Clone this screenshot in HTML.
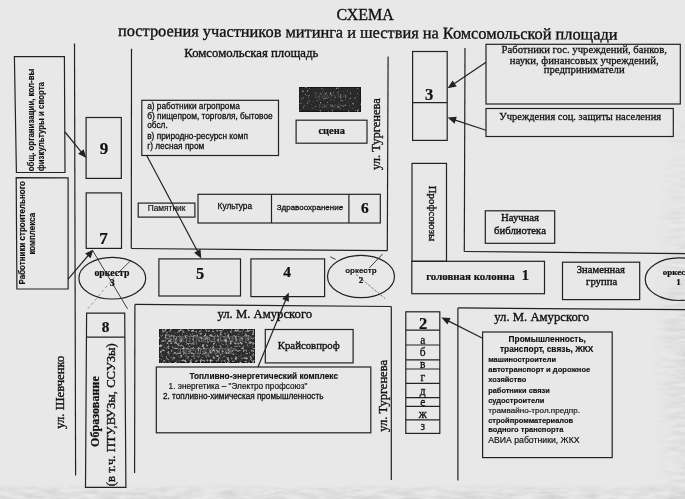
<!DOCTYPE html>
<html><head><meta charset="utf-8">
<style>
html,body{margin:0;padding:0;width:685px;height:499px;overflow:hidden;background:#e8e8e8;}
svg{position:absolute;left:0;top:0;filter:blur(0.3px);}
.s{font-family:"Liberation Serif",serif;fill:#111;stroke:#111;stroke-width:0.35;}
.a{font-family:"Liberation Sans",sans-serif;fill:#111;stroke:#111;stroke-width:0.18;}
.b{font-weight:bold;stroke-width:0.15;}
.s.b{stroke-width:0.22;}
.m{stroke-width:0.28;}
</style></head><body>
<svg width="685" height="499" viewBox="0 0 685 499">
<defs>
<filter id="noise" x="0" y="0" width="100%" height="100%">
<feTurbulence type="fractalNoise" baseFrequency="0.4" numOctaves="2" seed="7" result="n"/>
<feColorMatrix in="n" type="matrix" values="0 0 0 0 0.5  0 0 0 0 0.5  0 0 0 0 0.5  0 0 0 3.0 -1.6" result="m"/>
<feComposite in="m" in2="SourceAlpha" operator="in" result="c"/>
<feMerge result="mg"><feMergeNode in="SourceGraphic"/><feMergeNode in="c"/></feMerge>
<feGaussianBlur in="mg" stdDeviation="0.45"/>
</filter>
<filter id="noise2" x="0" y="0" width="100%" height="100%">
<feTurbulence type="fractalNoise" baseFrequency="0.4" numOctaves="2" seed="5" result="n"/>
<feColorMatrix in="n" type="matrix" values="0 0 0 0 0.5  0 0 0 0 0.5  0 0 0 0 0.5  0 0 0 3.0 -1.95" result="m"/>
<feComposite in="m" in2="SourceAlpha" operator="in" result="c"/>
<feMerge result="mg"><feMergeNode in="SourceGraphic"/><feMergeNode in="c"/></feMerge>
<feGaussianBlur in="mg" stdDeviation="0.45"/>
</filter>
<filter id="bgn2" x="0" y="0" width="100%" height="100%">
<feTurbulence type="fractalNoise" baseFrequency="0.05 0.25" numOctaves="3" seed="4" result="n"/>
<feColorMatrix in="n" type="matrix" values="0 0 0 0 0  0 0 0 0 0  0 0 0 0 0  0 0 0 1.6 -0.5" result="m"/>
<feComposite in="SourceGraphic" in2="m" operator="in"/>
</filter>
<filter id="bgn" x="0" y="0" width="100%" height="100%">
<feTurbulence type="fractalNoise" baseFrequency="0.08 0.3" numOctaves="3" seed="11" result="n"/>
<feColorMatrix in="n" type="matrix" values="0 0 0 0 0  0 0 0 0 0  0 0 0 0 0  0 0 0 0.6 -0.22" result="m"/>
<feComposite in="m" in2="SourceAlpha" operator="in"/>
</filter>
<linearGradient id="gb" x1="0" y1="0" x2="0" y2="1"><stop offset="0" stop-color="#000" stop-opacity="0"/><stop offset="0.3" stop-color="#000" stop-opacity="0.08"/><stop offset="1" stop-color="#000" stop-opacity="0.12"/></linearGradient>
<radialGradient id="gr" cx="1" cy="0.6" r="0.75"><stop offset="0" stop-color="#000" stop-opacity="0.13"/><stop offset="0.5" stop-color="#000" stop-opacity="0.06"/><stop offset="1" stop-color="#000" stop-opacity="0"/></radialGradient>
</defs>
<g fill="none" stroke="#222222" stroke-width="1.2">
<line x1="74.5" y1="43.5" x2="75.6" y2="475.5"/>
<line x1="131.5" y1="48.7" x2="131.3" y2="248.6"/>
<line x1="131.3" y1="248.5" x2="387.3" y2="250.7"/>
<line x1="388.1" y1="56.6" x2="387.3" y2="250.7"/>
<line x1="465.0" y1="48.0" x2="464.3" y2="251.6"/>
<line x1="464.3" y1="251.5" x2="685.0" y2="253.6"/>
<line x1="134.9" y1="304.4" x2="391.3" y2="306.5"/>
<line x1="134.9" y1="304.4" x2="134.6" y2="473.0"/>
<line x1="391.3" y1="306.5" x2="391.3" y2="480.1"/>
<line x1="457.9" y1="307.9" x2="457.9" y2="480.5"/>
<line x1="457.9" y1="307.9" x2="685.0" y2="309.6"/>
<path d="M14.4,56.5 L64.4,56.7 L65.0,172.5 L16.4,172.3 Z"/>
<path d="M16.2,177.6 L68.1,177.8 L68.1,289.0 L16.9,289.0 Z"/>
<rect x="86.1" y="117.5" width="35.2" height="60.9"/>
<rect x="86.2" y="192.9" width="35.3" height="55.5"/>
<ellipse cx="112.3" cy="278.2" rx="33.4" ry="20.8"/>
<path d="M86.6,313.2 L124.7,313.2 L125.9,487.3 L85.5,487.3 Z"/>
<line x1="86.6" y1="337.2" x2="124.9" y2="337.2"/>
<rect x="141.8" y="100.3" width="136.7" height="55.2"/>
<rect x="296.1" y="120.2" width="70.9" height="23.0"/>
<rect x="138.2" y="203.1" width="56.7" height="14.0"/>
<rect x="198.0" y="194.3" width="182.3" height="28.7"/>
<line x1="271.5" y1="194.3" x2="271.5" y2="223.0"/>
<line x1="348.9" y1="194.3" x2="348.9" y2="223.0"/>
<rect x="158.9" y="258.9" width="81.6" height="37.1"/>
<rect x="250.9" y="258.9" width="73.7" height="37.7"/>
<ellipse cx="361" cy="276.5" rx="33.5" ry="21.2"/>
<rect x="412.6" y="51.5" width="34.6" height="88.9"/>
<line x1="412.6" y1="102.6" x2="447.2" y2="102.6"/>
<rect x="412.0" y="163.4" width="34.5" height="97.9"/>
<rect x="411.8" y="261.3" width="132.7" height="32.4"/>
<rect x="485.3" y="210.8" width="69.4" height="32.5"/>
<rect x="562.5" y="262.2" width="77.2" height="37.4"/>
<ellipse cx="679" cy="279.2" rx="33.8" ry="21.3"/>
<rect x="486.0" y="44.3" width="194.3" height="59.7"/>
<rect x="486.0" y="108.5" width="187.3" height="28.0"/>
<rect x="405.8" y="311.8" width="34.0" height="121.6"/>
<line x1="405.8" y1="330.1" x2="439.8" y2="330.1"/>
<line x1="405.8" y1="345.0" x2="439.8" y2="345.0"/>
<line x1="405.8" y1="359.9" x2="439.8" y2="359.9"/>
<line x1="405.8" y1="369.0" x2="439.8" y2="369.0"/>
<line x1="405.8" y1="383.4" x2="439.8" y2="383.4"/>
<line x1="405.8" y1="397.7" x2="439.8" y2="397.7"/>
<line x1="405.8" y1="406.4" x2="439.8" y2="406.4"/>
<line x1="405.8" y1="419.9" x2="439.8" y2="419.9"/>
<rect x="482.6" y="332.0" width="129.6" height="125.6"/>
<rect x="265.3" y="329.5" width="87.8" height="33.4"/>
<rect x="156.3" y="367.0" width="214.5" height="65.8"/>
</g>
<rect x="0" y="484" width="685" height="15" fill="url(#gb)" filter="url(#bgn2)"/>
<rect x="640" y="120" width="45" height="379" fill="url(#gr)" filter="url(#bgn2)"/>
<g filter="url(#noise2)">
<rect x="299.2" y="87.4" width="61.3" height="24" fill="#2a2a2a" stroke="#141414" stroke-width="1.2"/>
<text x="329.8" y="98" font-size="9" text-anchor="middle" fill="#444" style="font-family:'Liberation Serif',serif;font-weight:bold">Трибуна</text>
<text x="329.8" y="107.5" font-size="8" text-anchor="middle" fill="#444" style="font-family:'Liberation Serif',serif;font-weight:bold">гостей</text>
</g>
<g filter="url(#noise)">
<rect x="159.2" y="329.2" width="95.8" height="33.2" fill="#2e2e2e" stroke="#141414" stroke-width="1.2"/>
<text x="208" y="341.5" font-size="12" text-anchor="middle" textLength="88" fill="#707070" style="font-family:'Liberation Serif',serif">Автотранспортное</text>
<text x="207" y="354" font-size="12" text-anchor="middle" textLength="56" fill="#707070" style="font-family:'Liberation Serif',serif">предприятие</text>
</g>
<g fill="none" stroke="#222222" stroke-width="1.2">
<line x1="65.0" y1="132.0" x2="82.2" y2="153.1"/><path d="M86.3,158.1 L78.1,153.8 L83.7,149.2 Z" fill="#222222" stroke="none"/>
<line x1="68.1" y1="279.1" x2="89.2" y2="254.3"/><path d="M93.4,249.4 L90.6,258.2 L85.1,253.5 Z" fill="#222222" stroke="none"/>
<line x1="146.7" y1="155.5" x2="198.3" y2="252.8"/><path d="M201.3,258.5 L194.1,252.7 L200.5,249.3 Z" fill="#222222" stroke="none"/>
<line x1="258.0" y1="367.0" x2="286.3" y2="298.6"/><path d="M288.8,292.6 L288.9,301.8 L282.2,299.1 Z" fill="#222222" stroke="none"/>
<line x1="486.0" y1="62.3" x2="453.0" y2="84.6"/><path d="M447.6,88.2 L452.6,80.5 L456.7,86.4 Z" fill="#222222" stroke="none"/>
<line x1="486.0" y1="130.2" x2="453.8" y2="119.6"/><path d="M447.6,117.6 L456.8,116.8 L454.6,123.7 Z" fill="#222222" stroke="none"/>
<line x1="482.6" y1="338.2" x2="447.2" y2="320.4"/><path d="M441.4,317.5 L450.6,318.1 L447.4,324.5 Z" fill="#222222" stroke="none"/>
</g>
<g fill="none" stroke="#2a2a2a">
<line x1="92.5" y1="250.3" x2="127.6" y2="308.9" stroke-width="0.9"/>
<line x1="130.3" y1="261" x2="118" y2="273" stroke-width="0.8"/>
<line x1="118" y1="273" x2="86.2" y2="310.7" stroke-width="0.7" stroke-dasharray="3 2.5" opacity="0.6"/>
<line x1="382.6" y1="254" x2="369.3" y2="267.9" stroke-width="0.9"/>
<line x1="356.1" y1="274.5" x2="385" y2="298.5" stroke-width="0.8" stroke-dasharray="2.5 1.5" opacity="0.8"/>
<line x1="330.2" y1="256.8" x2="335.6" y2="259.4" stroke-width="0.9"/>
</g>
<text class="s" x="365.2" y="19.9" font-size="16" text-anchor="middle">СХЕМА</text>
<text class="s" x="118" y="35.9" font-size="16.35" transform="rotate(0.44 118 35.9)">построения участников митинга и шествия на Комсомольской площади</text>
<text class="s" x="184.3" y="56.9" font-size="12.75">Комсомольская площадь</text>
<text class="a m" x="147.2" y="109" font-size="8.3">а) работники агропрома</text>
<text class="a m" x="147.2" y="118.9" font-size="8.3">б) пищепром, торговля, бытовое</text>
<text class="a m" x="147.2" y="127.8" font-size="8.3">обсл.</text>
<text class="a m" x="147.2" y="139.3" font-size="8.3">в) природно-ресурсн комп</text>
<text class="a m" x="147.2" y="148.6" font-size="8.3">г) лесная пром</text>
<text class="s b" x="331.7" y="133.6" font-size="10.4" text-anchor="middle">сцена</text>
<text class="a" x="147.7" y="211.2" font-size="8.36">Памятник</text>
<text class="a m" x="217.6" y="208.6" font-size="8.3">Культура</text>
<text class="a m" x="276.7" y="210.1" font-size="8.0">Здравоохранение</text>
<text class="s b" x="364.8" y="213" font-size="15.5" text-anchor="middle">6</text>
<text class="s b" x="104.1" y="154.4" font-size="17" text-anchor="middle">9</text>
<text class="s b" x="103.5" y="243.9" font-size="17" text-anchor="middle">7</text>
<text class="s b" x="105.7" y="332.1" font-size="15.3" text-anchor="middle">8</text>
<text class="s b" x="200" y="279" font-size="16.3" text-anchor="middle">5</text>
<text class="s b" x="287.1" y="276.9" font-size="15.5" text-anchor="middle">4</text>
<text class="s b" x="429" y="100.2" font-size="16.5" text-anchor="middle">3</text>
<text class="s b" x="423" y="329.3" font-size="16.5" text-anchor="middle">2</text>
<text class="s b" x="525.4" y="280.2" font-size="14.5" text-anchor="middle">1</text>
<text class="s b" x="111.9" y="275.5" font-size="9.8" text-anchor="middle">оркестр</text>
<text class="s b" x="112.3" y="286.3" font-size="9.5" text-anchor="middle">3</text>
<text class="a b" x="360.9" y="272.7" font-size="8.0" text-anchor="middle">оркестр</text>
<text class="s b" x="360.9" y="282.5" font-size="9" text-anchor="middle">2</text>
<text class="s b" x="662.8" y="274.9" font-size="9">оркестр</text>
<text class="s b" x="678.4" y="285.4" font-size="9" text-anchor="middle">1</text>
<text class="s b" x="426.2" y="280" font-size="10.9">головная колонна</text>
<text class="s" x="520" y="221.4" font-size="10.7" text-anchor="middle">Научная</text>
<text class="s" x="520" y="233.6" font-size="10.7" text-anchor="middle">библиотека</text>
<text class="s" x="600.8" y="273" font-size="10.6" text-anchor="middle">Знаменная</text>
<text class="s" x="601.6" y="285.4" font-size="10.7" text-anchor="middle">группа</text>
<text class="s m" x="584.2" y="53.3" font-size="10.7" text-anchor="middle">Работники гос. учреждений, банков,</text>
<text class="s m" x="584.2" y="63.5" font-size="10.7" text-anchor="middle">науки, финансовых учреждений,</text>
<text class="s m" x="584.2" y="72.8" font-size="10.7" text-anchor="middle">предприниматели</text>
<text class="s m" x="580.2" y="119.6" font-size="10.5" text-anchor="middle">Учреждения соц. защиты населения</text>
<text class="s m" x="422.8" y="343.6" font-size="11.5" text-anchor="middle">а</text>
<text class="s m" x="422.8" y="356.4" font-size="11.5" text-anchor="middle">б</text>
<text class="s m" x="422.8" y="367.7" font-size="11.5" text-anchor="middle">в</text>
<text class="s m" x="422.8" y="381.2" font-size="11.5" text-anchor="middle">г</text>
<text class="s m" x="422.8" y="394.7" font-size="11.5" text-anchor="middle">д</text>
<text class="s m" x="422.8" y="405.8" font-size="11.5" text-anchor="middle">е</text>
<text class="s m" x="422.8" y="418" font-size="11.5" text-anchor="middle">ж</text>
<text class="s m" x="422.8" y="429.9" font-size="11.5" text-anchor="middle">з</text>
<text class="a b" x="547.2" y="341.9" font-size="8.33" text-anchor="middle">Промышленность,</text>
<text class="a b" x="546.7" y="351.6" font-size="8.35" text-anchor="middle">транспорт, связь, ЖКХ</text>
<text class="a b" x="488.2" y="361.9" font-size="7.45">машиностроители</text>
<text class="a b" x="488.2" y="372.1" font-size="7.6">автотранспорт и дорожное</text>
<text class="a b" x="488.2" y="382.3" font-size="7.5">хозяйство</text>
<text class="a b" x="488.2" y="392.6" font-size="7.4">работники связи</text>
<text class="a b" x="488.2" y="403.0" font-size="7.5">судостроители</text>
<text class="a" x="488.2" y="412.8" font-size="8.1">трамвайно-трол.предпр.</text>
<text class="a b" x="488.2" y="423.0" font-size="7.46">стройпромматериалов</text>
<text class="a b" x="488.2" y="432.4" font-size="7.5">водного транспорта</text>
<text class="a" x="488.2" y="443.0" font-size="8.7">АВИА работники, ЖКХ</text>
<text class="s" x="217.5" y="317.8" font-size="12.7">ул. М. Амурского</text>
<text class="s" x="494.3" y="321" font-size="12.7">ул. М. Амурского</text>
<text class="s" x="277.8" y="349.1" font-size="10.77">Крайсовпроф</text>
<text class="a b" x="189.5" y="379.1" font-size="8.3">Топливно-энергетический комплекс</text>
<text class="a" x="168.6" y="389.1" font-size="8.23">1. энергетика – "Электро профсоюз"</text>
<text class="a m" x="163" y="398.7" font-size="8.18">2. топливно-химическая промышленность</text>
<text class="s" transform="translate(380.2,170) rotate(-90)" font-size="12.5">ул. Тургенева</text>
<text class="s" transform="translate(386.6,431.8) rotate(-90)" font-size="12.5">ул. Тургенева</text>
<text class="s" transform="translate(64,428.8) rotate(-90)" font-size="12.73">ул. Шевченко</text>
<text class="s b" transform="translate(98.6,446.9) rotate(-90)" font-size="12.1">Образование</text>
<text class="s" transform="translate(114.8,486.2) rotate(-90)" font-size="12.7">(в т.ч. ПТУ,ВУЗы, ССУЗы)</text>
<text class="s" transform="translate(429,185.8) rotate(90)" font-size="10.8">Профсоюзы</text>
<text class="a b" transform="translate(34,171.2) rotate(-90) scale(0.823,1)" font-size="9.6">общ. организации, кол-вы</text>
<text class="a b" transform="translate(43.6,171.2) rotate(-90) scale(0.823,1)" font-size="9.6">физкультуры и спорта</text>
<text class="a b" transform="translate(24.6,284.5) rotate(-90) scale(0.87,1)" font-size="9.2">Работники строительного</text>
<text class="a b" transform="translate(35.2,233.7) rotate(-90) scale(0.87,1)" font-size="9.2" text-anchor="middle">комплекса</text>
</svg>
</body></html>
